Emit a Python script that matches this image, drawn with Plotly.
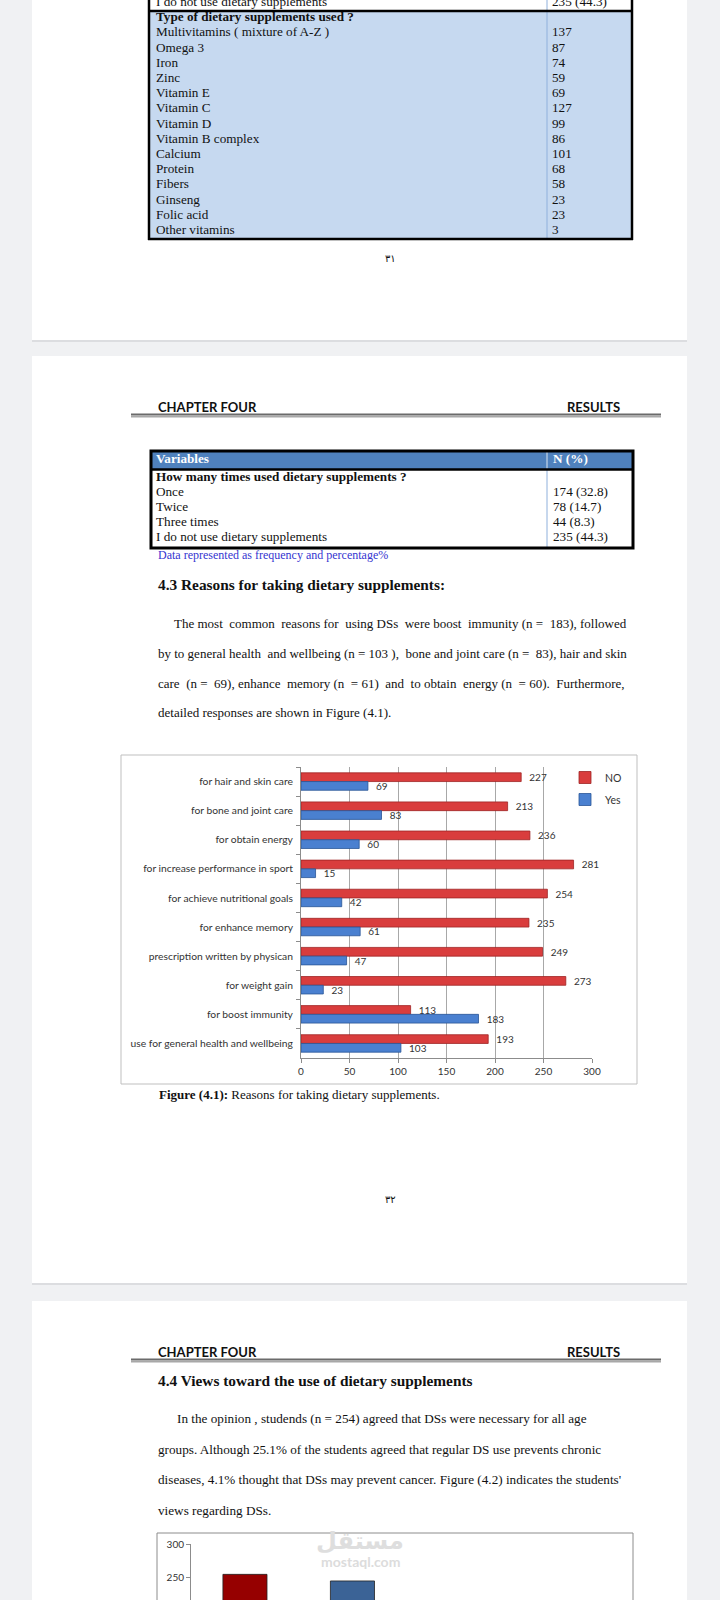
import plotly.graph_objects as go

W, H = 720, 1600

# ---------------- data ----------------
prev_row_label = "I do not use dietary supplements"
prev_row_value = "235 (44.3)"
supp_section = "Type of dietary supplements used ?"
supp_types = ["Multivitamins ( mixture of A-Z )", "Omega 3", "Iron", "Zinc", "Vitamin E",
              "Vitamin C", "Vitamin D", "Vitamin B complex", "Calcium", "Protein",
              "Fibers", "Ginseng", "Folic acid", "Other vitamins"]
supp_counts = [137, 87, 74, 59, 69, 127, 99, 86, 101, 68, 58, 23, 23, 3]

table_columns = ["Variables", "N (%)"]
times_section = "How many times used dietary supplements ?"
times_labels = ["Once", "Twice", "Three times", "I do not use dietary supplements"]
times_n = [174, 78, 44, 235]
times_pct = [32.8, 14.7, 8.3, 44.3]

reasons = ["for hair and skin care", "for bone and joint care", "for obtain energy",
           "for increase performance in sport", "for achieve nutritional goals",
           "for enhance memory", "prescription written by physican", "for weight gain",
           "for boost immunity", "use for general health and wellbeing"]
reasons_no = [227, 213, 236, 281, 254, 235, 249, 273, 113, 193]
reasons_yes = [69, 83, 60, 15, 42, 61, 47, 23, 183, 103]
reason_ticks = [0, 50, 100, 150, 200, 250, 300]

views_labels = ["bar 1", "bar 2"]
views_values = [254, 244]
views_colors = ["#960000", "#3b6396"]
views_ticks = [250, 300]

SERIF = "Liberation Serif"
SANS = "Lato"
NB = "\u00a0"


def px(x):
    return x / W


def py(y):
    return 1 - y / H


shapes = []
annotations = []


def rect(x0, y0, x1, y1, fill=None, line=None, lw=0, layer="below"):
    d = dict(type="rect", xref="paper", yref="paper", x0=px(x0), x1=px(x1), y0=py(y1), y1=py(y0),
             layer=layer, line=dict(width=lw, color=line or "rgba(0,0,0,0)"))
    if fill:
        d["fillcolor"] = fill
    shapes.append(d)


def hline(x0, x1, y, color, w, layer="above"):
    shapes.append(dict(type="line", xref="paper", yref="paper", x0=px(x0), x1=px(x1), y0=py(y), y1=py(y),
                       line=dict(color=color, width=w), layer=layer))


def vline(x, y0, y1, color, w, layer="above"):
    shapes.append(dict(type="line", xref="paper", yref="paper", x0=px(x), x1=px(x), y0=py(y0), y1=py(y1),
                       line=dict(color=color, width=w), layer=layer))


def txt(x, y, s, size=13, family=SERIF, color="#111111", anchor="left"):
    annotations.append(dict(x=px(x), y=py(y), xref="paper", yref="paper", text=s, showarrow=False,
                            xanchor=anchor, yanchor="middle", borderpad=0,
                            font=dict(family=family, size=size, color=color)))


def spread(line, extra):
    """widen some word gaps with no-break spaces (imitates justified text)"""
    words = line.split(" ")
    gaps = len(words) - 1
    if extra <= 0 or gaps <= 0:
        return line
    chosen = {min(gaps - 1, int((i + 0.5) * gaps / extra)) for i in range(extra)}
    out = words[0]
    for i, w in enumerate(words[1:]):
        out += (" " + NB if i in chosen else " ") + w
    return out


# ---------------- pages ----------------
for top, bot in [(-20, 340), (356, 1283), (1301, 1640)]:
    rect(32, top, 687, bot, fill="white")
    hline(32, 687, bot + 1, "#dcdde0", 2, layer="below")

# ---------------- page 1: table continued ----------------
rect(149, 11, 632, 239, fill="#c6d9f0")
vline(547, 0, 239, "#8fb0dc", 1)
hline(149, 632, 11, "#000000", 2.5)
vline(149, 0, 240, "#000000", 2.5)
vline(632, 0, 240, "#000000", 2.5)
hline(148, 633, 239, "#000000", 2.5)
txt(390, 258, "٣١", size=10, family="DejaVu Sans", anchor="center")


# ---------------- page 2 ----------------
def chapter_header(y):
    txt(157, y, "<b>CHAPTER FOUR</b>", size=13, family=SANS, color="#111111")
    txt(621, y, "<b>RESULTS</b>", size=13, family=SANS, color="#111111", anchor="right")
    hline(131, 661, y + 7.5, "#6b6b6b", 2)
    hline(131, 661, y + 9.5, "#a8a8a8", 2)


chapter_header(407)

rect(151, 451, 633, 469, fill="#4f81bd")
vline(547, 451, 469, "#dbe5f1", 1)
vline(547, 469, 548, "#8fb0dc", 1)
hline(151, 633, 469.5, "#000000", 2.5)
rect(151, 451, 633, 548, line="#000000", lw=3, layer="above")

txt(157, 555, "Data represented as frequency and percentage%", size=12, color="#3535d0")
txt(157, 584, "<b>4.3 Reasons for taking dietary supplements:</b>", size=15.35)

para1 = [
    (173, 623, "The most common " + NB + "reasons for using DSs " + NB + "were boost immunity (n = 183), followed", 4),
    (157, 653, "by to general health and wellbeing (n = 103 ), bone and joint care (n = 83), hair and skin", 3),
    (157, 683, "care (n = 69), enhance memory (n = 61) and to obtain energy (n = 60). Furthermore,", 9),
    (157, 713, "detailed responses are shown in Figure (4.1).", 0),
]
for x, y, s, extra in para1:
    txt(x, y, spread(s, extra), size=13)

rect(121, 755, 637, 1084, line="#bfbfbf", lw=1, layer="below")
txt(158, 1094, "<b>Figure (4.1):</b> Reasons for taking dietary supplements.", size=13)
txt(391, 1199, "٣٢", size=10, family="DejaVu Sans", anchor="center")

# ---------------- page 3 ----------------
chapter_header(1352)
txt(157, 1380, "<b>4.4 Views toward the use of dietary supplements</b>", size=15.35)
para2 = [
    (176, 1418, "In the opinion , studends (n = 254) agreed that DSs were necessary for all age"),
    (157, 1449, "groups. Although 25.1% of the students agreed that regular DS use prevents chronic"),
    (157, 1479, "diseases, 4.1% thought that DSs may prevent cancer. Figure (4.2) indicates the students'"),
    (157, 1510, "views regarding DSs."),
]
for x, y, s in para2:
    txt(x, y, s, size=13.2)
rect(157, 1533, 633, 1640, line="#8c8c8c", lw=1, layer="below")
txt(360, 1541, "<b>مستقل</b>", size=24, family="DejaVu Sans", color="#dedede", anchor="center")
txt(360, 1561, "<b>mostaql.com</b>", size=14, family=SANS, color="#dcdcdc", anchor="center")

# ---------------- traces ----------------
fig = go.Figure()

fig.add_trace(go.Bar(
    y=reasons, x=reasons_no, orientation="h", name="NO", legendgroup="no",
    marker=dict(color="#d93d3d", line=dict(color="#9e2525", width=0.8)),
    texttemplate=NB + NB + "%{x}", textposition="outside", constraintext="none", cliponaxis=False,
    textfont=dict(family=SANS, size=10, color="#333333"), xaxis="x", yaxis="y", hoverinfo="skip"))
fig.add_trace(go.Bar(
    y=reasons, x=reasons_yes, orientation="h", name="Yes", legendgroup="yes",
    marker=dict(color="#4a80d0", line=dict(color="#2a5597", width=0.8)),
    texttemplate=NB + NB + "%{x}", textposition="outside", constraintext="none", cliponaxis=False,
    textfont=dict(family=SANS, size=10, color="#333333"), xaxis="x", yaxis="y", hoverinfo="skip"))

fig.add_trace(go.Bar(
    x=views_labels, y=views_values, width=0.41, showlegend=False,
    marker=dict(color=views_colors, line=dict(color="#222222", width=0.8)),
    xaxis="x2", yaxis="y2", hoverinfo="skip"))

t1_rows = list(range(-1, len(supp_types) + 1))
t1_left = [prev_row_label, "<b>" + supp_section + "</b>"] + supp_types
t1_right = [prev_row_value, ""] + [str(v) for v in supp_counts]
for xpos, col in [(7, t1_left), (403, t1_right)]:
    fig.add_trace(go.Scatter(
        x=[xpos] * len(col), y=t1_rows, text=col, mode="text", textposition="middle right",
        textfont=dict(family=SERIF, size=13.2, color="#111111"), marker=dict(size=1),
        showlegend=False, hoverinfo="skip", cliponaxis=False, xaxis="x3", yaxis="y3"))

t2_rows = list(range(0, len(times_labels) + 1))
t2_left = ["<b>" + times_section + "</b>"] + times_labels
t2_right = [""] + [f"{n} ({p})" for n, p in zip(times_n, times_pct)]
for xpos, col in [(5, t2_left), (402, t2_right)]:
    fig.add_trace(go.Scatter(
        x=[xpos] * len(col), y=t2_rows, text=col, mode="text", textposition="middle right",
        textfont=dict(family=SERIF, size=13.2, color="#111111"), marker=dict(size=1),
        showlegend=False, hoverinfo="skip", xaxis="x4", yaxis="y4"))
HEADER_ROW = -1.2
fig.add_trace(go.Scatter(
    x=[5, 402], y=[HEADER_ROW, HEADER_ROW], text=["<b>" + c + "</b>" for c in table_columns],
    mode="text", textposition="middle right", marker=dict(size=1),
    textfont=dict(family=SERIF, size=13.2, color="white"),
    showlegend=False, hoverinfo="skip", xaxis="x4", yaxis="y4"))

hidden = dict(visible=False, fixedrange=True, automargin=False)

fig.update_layout(
    width=W, height=H, autosize=False,
    margin=dict(l=0, r=0, t=0, b=0, pad=0, autoexpand=False),
    paper_bgcolor="#f0f1f3", plot_bgcolor="rgba(0,0,0,0)",
    barmode="group", bargap=0.4, bargroupgap=0.0,
    shapes=shapes, annotations=annotations,
    showlegend=True,
    legend=dict(x=px(565), y=py(763), xanchor="left", yanchor="top", bgcolor="rgba(0,0,0,0)",
                font=dict(family=SANS, size=10.5, color="#333333"), traceorder="grouped",
                tracegroupgap=3, itemwidth=30),
    xaxis=dict(domain=[px(301), px(592)], range=[0, 300], tickvals=reason_ticks, anchor="y",
               automargin=False,
               showgrid=True, gridcolor="#a8a8a8", gridwidth=1, zeroline=False,
               showline=True, linecolor="#8c8c8c", ticks="outside", ticklen=4, tickcolor="#8c8c8c",
               tickfont=dict(family=SANS, size=10, color="#333333"), fixedrange=True),
    yaxis=dict(domain=[py(1058), py(767)], type="category", categoryarray=reasons, anchor="x",
               categoryorder="array", autorange="reversed", automargin=False,
               showgrid=False, zeroline=False, showline=True, linecolor="#8c8c8c",
               ticks="outside", tickson="boundaries", ticklen=4, tickcolor="#8c8c8c",
               ticklabelstandoff=5,
               tickfont=dict(family=SANS, size=10.3, color="#333333"), fixedrange=True),
    xaxis2=dict(domain=[px(191), px(633)], type="category", range=[-0.502, 3.61], anchor="y2",
                automargin=False,
                showticklabels=False, showgrid=False, zeroline=False, showline=False, ticks="",
                fixedrange=True),
    yaxis2=dict(domain=[0, py(1544)], range=[215.15, 300], tickvals=views_ticks, anchor="x2",
                automargin=False,
                showgrid=False, zeroline=False, showline=True, linecolor="#8c8c8c",
                ticks="outside", ticklen=4, tickcolor="#8c8c8c",
                tickfont=dict(family=SANS, size=10, color="#333333"), fixedrange=True),
    xaxis3=dict(domain=[px(149), px(632)], range=[0, 483], anchor="y3", **hidden),
    yaxis3=dict(domain=[py(240), 1.0], range=[14.605, -18 / 15.2], anchor="x3", **hidden),
    xaxis4=dict(domain=[px(151), px(633)], range=[0, 482], anchor="y4", **hidden),
    yaxis4=dict(domain=[py(548), py(451)], range=[4.667, -1.8], anchor="x4", **hidden),
)

fig.write_html(
    "out.html",
    config={"displayModeBar": False},
    post_script="document.body.style.margin='0';document.documentElement.style.overflow='hidden';",
)
